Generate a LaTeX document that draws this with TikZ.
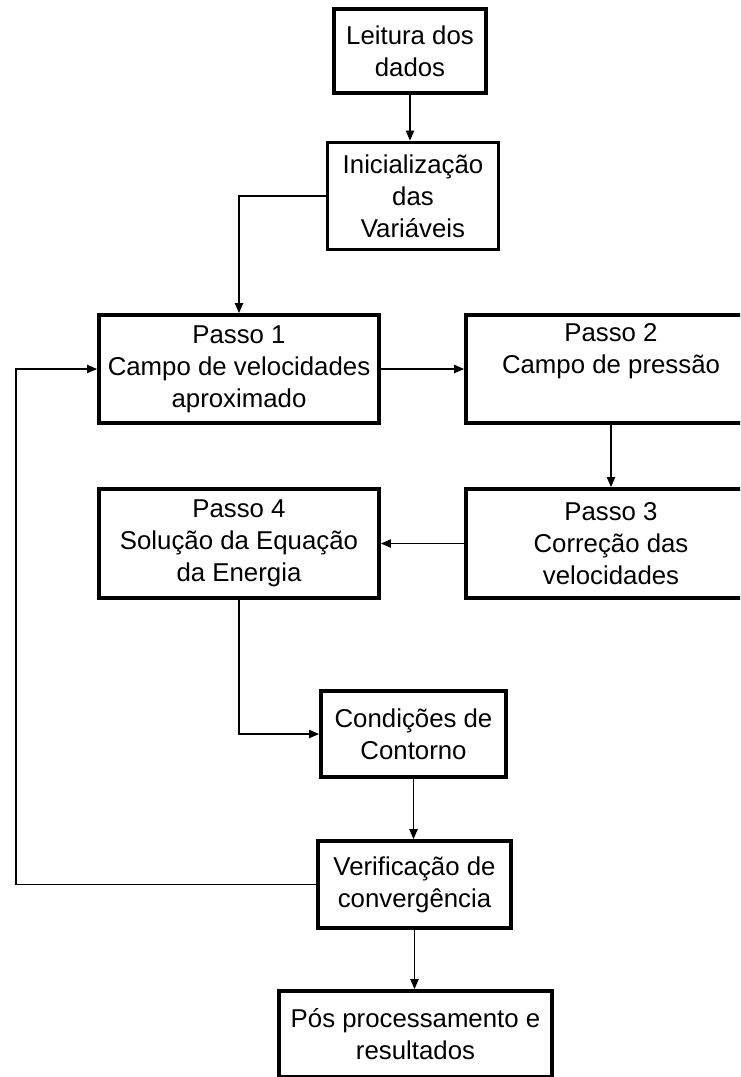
\documentclass[tikz,border=0pt]{standalone}
\usepackage{fontspec}
\setmainfont{Liberation Sans}
\usetikzlibrary{arrows.meta}
\begin{document}
\begin{tikzpicture}[x=0.5pt,y=-0.5pt,>={Triangle[length=5pt,width=4pt]},
  box/.style={draw,line width=1.8pt,fill=white,align=center,inner sep=0pt,
    font=\fontsize{12.9}{16}\selectfont},
  link/.style={line width=0.9pt}]
\clip (0,0) rectangle (740,1077);
\fill[white] (0,0) rectangle (740,1077);

\node[box,minimum width=76pt,minimum height=42pt] (lei) at (410,51) {Leitura dos\\dados};
\node[box,minimum width=85.5pt,minimum height=53.5pt] (ini) at (413,196) {Inicialização\\das\\Variáveis};
\node[box,minimum width=140pt,minimum height=54pt] (p1) at (239,369) {Passo 1\\Campo de velocidades\\aproximado};
\node[box,minimum width=145pt,minimum height=54pt] (p2) at (611,369) {Passo 2\\Campo de pressão\\\strut};
\node[box,minimum width=145pt,minimum height=54.5pt] (p3) at (611,543.5) {Passo 3\\Correção das\\velocidades};
\node[box,minimum width=140pt,minimum height=54.5pt] (p4) at (239,543.5) {Passo 4\\Solução da Equação\\da Energia};
\node[box,minimum width=92.5pt,minimum height=43pt] (con) at (413.5,734) {Condições de\\Contorno};
\node[box,minimum width=96.5pt,minimum height=43.5pt] (ver) at (414.5,884.5) {Verificação de\\convergência};
\node[box,minimum width=136.5pt,minimum height=43pt] (pos) at (415.5,1034) {Pós processamento e\\resultados};

\draw[link,->] (lei.south) -- (lei.south |- ini.north);
\draw[link,->] (ini.west) -| (p1.north);
\draw[link,->] (p1) -- (p2);
\draw[link,->] (p2) -- (p3);
\draw[link,->] (p3) -- (p4);
\draw[link,->] (p4.south) |- (con.west);
\draw[link,->] (con.south) -- (con.south |- ver.north);
\draw[link,->] (ver.south) -- (ver.south |- pos.north);
\coordinate (back) at (16,369);
\draw[link,->] (ver.west) -| (back) -- (p1.west);
\end{tikzpicture}
\end{document}
